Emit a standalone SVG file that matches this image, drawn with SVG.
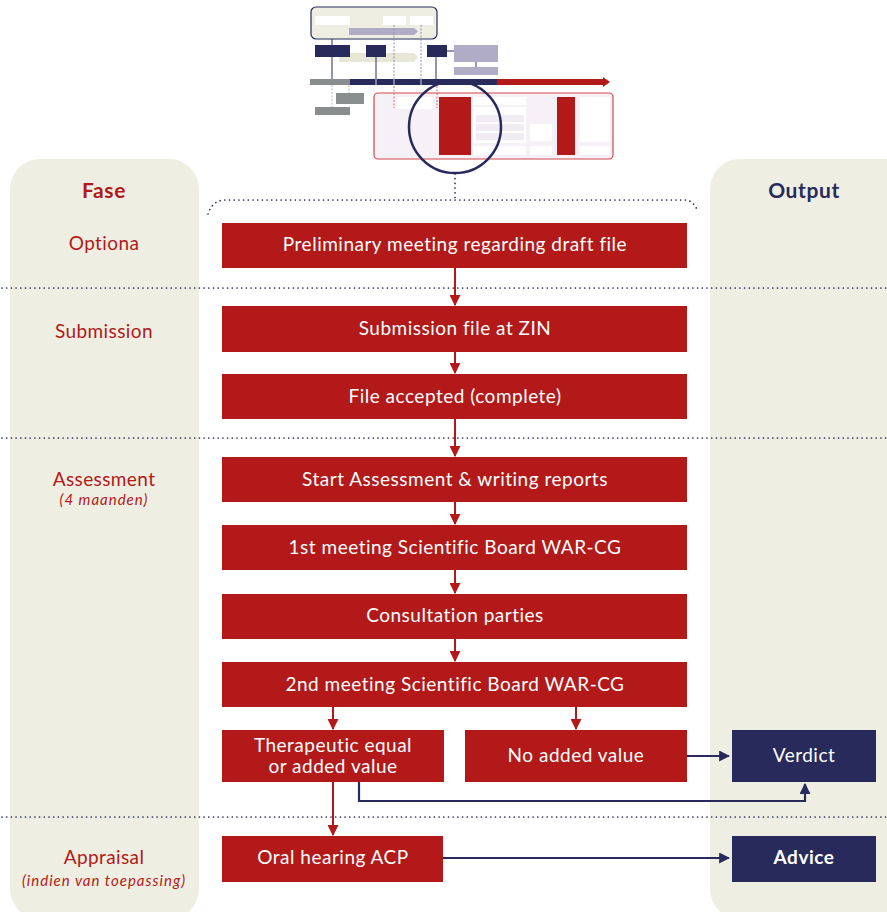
<svg xmlns="http://www.w3.org/2000/svg" width="887" height="912" viewBox="0 0 887 912">
<style>
  .col{fill:#efeee3}
  .box{fill:#b21918}
  .nbox{fill:#282a5c}
  .btxt{font-family:Lato,"Open Sans",sans-serif;font-size:19px;letter-spacing:0.5px;fill:#ffffff;text-anchor:middle}
  .phase{font-family:Lato,"Open Sans",sans-serif;font-size:19px;letter-spacing:0.4px;fill:#b21918;text-anchor:middle}
  .note{font-family:Lato,"Open Sans",sans-serif;font-size:15px;letter-spacing:1px;font-style:italic;fill:#b21918;text-anchor:middle}
  .head{font-family:Lato,"Open Sans",sans-serif;font-size:21px;letter-spacing:0.6px;font-weight:bold;text-anchor:middle}
  .dots{fill:none;stroke:#282a5c;stroke-width:1.7;stroke-linecap:round;stroke-dasharray:0 4.7}
  .red{fill:none;stroke:#b21918;stroke-width:2}
  .navy{fill:none;stroke:#282a5c;stroke-width:2.2}
</style>
<defs>
  <marker id="ah-red" viewBox="0 0 10 10" refX="9" refY="5" markerWidth="5.5" markerHeight="5.5" orient="auto" markerUnits="strokeWidth">
    <path d="M0,0 L10,5 L0,10 z" fill="#b21918"/>
  </marker>
  <marker id="ah-navy" viewBox="0 0 10 10" refX="9" refY="5" markerWidth="5" markerHeight="5" orient="auto" markerUnits="strokeWidth">
    <path d="M0,0 L10,5 L0,10 z" fill="#282a5c"/>
  </marker>
</defs>

<!-- side columns -->
<g id="col-fase">
  <rect class="col" x="10" y="159" width="189" height="760" rx="30"/>
  <text class="head" x="104" y="198" fill="#b21918">Fase</text>
</g>
<g id="col-output">
  <rect class="col" x="710" y="159" width="210" height="760" rx="30"/>
  <text class="head" x="804" y="198" fill="#282a5c">Output</text>
</g>

<!-- timeline icon -->
<g id="icon">
  <rect x="311" y="7" width="126" height="32" rx="5" fill="#efeee3" stroke="#282a5c" stroke-width="1.2"/>
  <rect x="315" y="16" width="35" height="9" fill="#fff"/>
  <rect x="383" y="16" width="23" height="9" fill="#fff"/>
  <rect x="410" y="16" width="23" height="9" fill="#fff"/>
  <path d="M349,28 H414 L418,31.5 L414,35 H349 z" fill="#b0acc5"/>
  <path d="M339,53 H414 L418,57.5 L414,62 H339 z" fill="#e8e6d6"/>
  <line x1="332" y1="39" x2="332" y2="45" stroke="#282a5c" stroke-width="1"/>
  <rect x="315" y="45" width="35" height="12" fill="#282a5c"/>
  <rect x="366" y="45" width="20" height="12" fill="#282a5c"/>
  <rect x="427" y="45" width="20" height="12" fill="#282a5c"/>
  <line x1="447" y1="51" x2="454" y2="51" stroke="#282a5c" stroke-width="1"/>
  <rect x="454" y="45" width="44" height="17" fill="#b0acc5"/>
  <line x1="476" y1="62" x2="476" y2="67" stroke="#282a5c" stroke-width="1"/>
  <rect x="454" y="67" width="44" height="8" fill="#b0acc5"/>
  <g stroke="#282a5c" stroke-width="1">
    <line x1="332" y1="57" x2="332" y2="80"/>
    <line x1="376" y1="57" x2="376" y2="80"/>
    <line x1="436" y1="57" x2="436" y2="80"/>
  </g>
  <g stroke="#8e8fb0" stroke-width="1" stroke-dasharray="2 1.5">
    <line x1="394" y1="25" x2="394" y2="80"/>
    <line x1="421" y1="25" x2="421" y2="80"/>
  </g>
  <rect x="310" y="79" width="40" height="6" fill="#8a8d8e"/>
  <rect x="350" y="79" width="147" height="6" fill="#282a5c"/>
  <path d="M497,79 H603 L603,77 L610,82 L603,87 L603,85 H497 z" fill="#b21918"/>
  <g stroke="#fff" stroke-width="0.8">
    <line x1="376" y1="79" x2="376" y2="85"/>
    <line x1="394" y1="79" x2="394" y2="85"/>
    <line x1="421" y1="79" x2="421" y2="85"/>
  </g>
  <g stroke="#b7b9ba" stroke-width="1" stroke-dasharray="2 1.5">
    <line x1="332" y1="85" x2="332" y2="107"/>
    <line x1="349" y1="85" x2="349" y2="93"/>
  </g>
  <rect x="336" y="93" width="28" height="11" fill="#8a8d8e"/>
  <rect x="315" y="107" width="35" height="8" fill="#8a8d8e"/>
  <rect x="374" y="93" width="239" height="66" rx="4" fill="#f5f1f6" stroke="#d4474b" stroke-width="1.2"/>
  <g stroke="#e06a6a" stroke-width="1" stroke-dasharray="2 1.5">
    <line x1="394" y1="86" x2="394" y2="108"/>
    <line x1="437" y1="86" x2="437" y2="108"/>
  </g>
  <rect x="397" y="97" width="36" height="12" fill="#fff"/>
  <rect x="439" y="97" width="32" height="58" fill="#b21918"/>
  <rect x="473" y="97" width="53" height="8" fill="#fff"/>
  <rect x="473" y="107" width="53" height="36" fill="#fff"/>
  <rect x="476" y="115" width="48" height="7" fill="#f1ecf3"/>
  <rect x="476" y="124" width="48" height="7" fill="#f1ecf3"/>
  <rect x="476" y="133" width="48" height="7" fill="#f1ecf3"/>
  <rect x="473" y="146" width="53" height="9" fill="#fff"/>
  <rect x="530" y="124" width="22" height="17" fill="#fff"/>
  <rect x="530" y="146" width="22" height="9" fill="#fff"/>
  <rect x="557" y="97" width="18" height="58" fill="#b21918"/>
  <rect x="580" y="97" width="30" height="45" fill="#fff"/>
  <rect x="580" y="146" width="30" height="9" fill="#fff"/>
  <circle cx="455" cy="127" r="46" fill="none" stroke="#282a5c" stroke-width="2.5"/>
</g>

<!-- dotted guides -->
<g id="guides">
  <path class="dots" d="M455,174 V198"/>
  <path class="dots" d="M208,214 Q212,201 224,200 H686 Q694,201 698,212"/>
  <path class="dots" d="M2,288 H887"/>
  <path class="dots" d="M2,438 H887"/>
  <path class="dots" d="M2,817 H887"/>
</g>

<!-- phase labels -->
<g id="phases">
  <text class="phase" x="104" y="250">Optiona</text>
  <text class="phase" x="104" y="338">Submission</text>
  <text class="phase" x="104" y="486">Assessment</text>
  <text class="note" x="104" y="505">(4 maanden)</text>
  <text class="phase" x="104" y="864">Appraisal</text>
  <text class="note" x="104" y="886">(indien van toepassing)</text>
</g>

<!-- connectors -->
<g id="connectors">
  <line class="red" x1="455" y1="268" x2="455" y2="305" marker-end="url(#ah-red)"/>
  <line class="red" x1="455" y1="352" x2="455" y2="373" marker-end="url(#ah-red)"/>
  <line class="red" x1="455" y1="419" x2="455" y2="456" marker-end="url(#ah-red)"/>
  <line class="red" x1="455" y1="502" x2="455" y2="524" marker-end="url(#ah-red)"/>
  <line class="red" x1="455" y1="570" x2="455" y2="593" marker-end="url(#ah-red)"/>
  <line class="red" x1="455" y1="639" x2="455" y2="661" marker-end="url(#ah-red)"/>
  <line class="red" x1="333" y1="707" x2="333" y2="729" marker-end="url(#ah-red)"/>
  <line class="red" x1="576" y1="707" x2="576" y2="729" marker-end="url(#ah-red)"/>
  <line class="red" x1="333" y1="782" x2="333" y2="835" marker-end="url(#ah-red)"/>
  <line class="navy" x1="687" y1="756" x2="729" y2="756" marker-end="url(#ah-navy)"/>
  <polyline class="navy" points="359,782 359,801 805,801 805,784" marker-end="url(#ah-navy)"/>
  <line class="navy" x1="443" y1="858" x2="729" y2="858" marker-end="url(#ah-navy)"/>
</g>

<!-- process steps -->
<g id="n-preliminary"><rect class="box" x="222" y="223" width="465" height="45"/><text class="btxt" x="455" y="251">Preliminary meeting regarding draft file</text></g>
<g id="n-submission"><rect class="box" x="222" y="306" width="465" height="46"/><text class="btxt" x="455" y="335">Submission file at ZIN</text></g>
<g id="n-accepted"><rect class="box" x="222" y="374" width="465" height="45"/><text class="btxt" x="455" y="403">File accepted (complete)</text></g>
<g id="n-start"><rect class="box" x="222" y="457" width="465" height="45"/><text class="btxt" x="455" y="486">Start Assessment &amp; writing reports</text></g>
<g id="n-meeting1"><rect class="box" x="222" y="525" width="465" height="45"/><text class="btxt" x="455" y="554">1st meeting Scientific Board WAR-CG</text></g>
<g id="n-consult"><rect class="box" x="222" y="594" width="465" height="45"/><text class="btxt" x="455" y="622">Consultation parties</text></g>
<g id="n-meeting2"><rect class="box" x="222" y="662" width="465" height="45"/><text class="btxt" x="455" y="691">2nd meeting Scientific Board WAR-CG</text></g>
<g id="n-equal"><rect class="box" x="222" y="730" width="222" height="52"/><text class="btxt" x="333" y="752">Therapeutic equal</text><text class="btxt" x="333" y="773">or added value</text></g>
<g id="n-noadded"><rect class="box" x="465" y="730" width="222" height="52"/><text class="btxt" x="576" y="762">No added value</text></g>
<g id="n-verdict"><rect class="nbox" x="732" y="730" width="144" height="52"/><text class="btxt" x="804" y="762">Verdict</text></g>
<g id="n-oral"><rect class="box" x="222" y="836" width="221" height="46"/><text class="btxt" x="333" y="864">Oral hearing ACP</text></g>
<g id="n-advice"><rect class="nbox" x="732" y="836" width="144" height="46"/><text class="btxt" x="804" y="864" font-weight="bold">Advice</text></g>
</svg>
